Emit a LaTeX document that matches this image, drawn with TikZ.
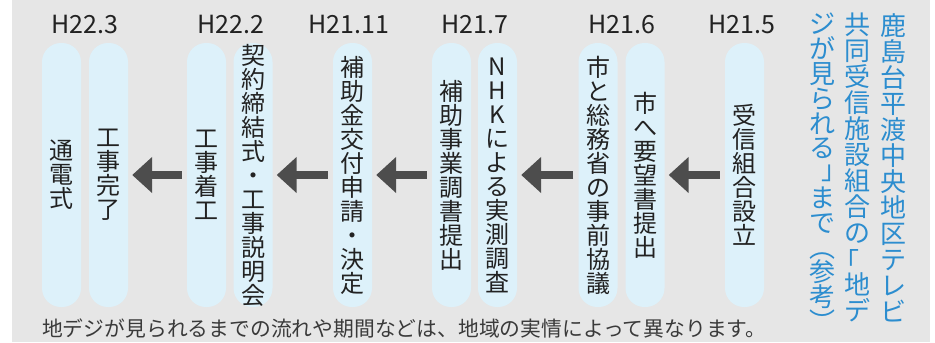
\documentclass[tikz,border=0pt]{standalone}
\usepackage{fontspec}
\setmainfont{Noto Sans CJK JP}
\usetikzlibrary{arrows.meta}
\definecolor{bggray}{HTML}{E6E6E6}
\definecolor{pillblue}{HTML}{DDF1FA}
\definecolor{arrgray}{HTML}{4D4D4D}
\definecolor{titleblue}{HTML}{2C8DCF}
\definecolor{inkgray}{HTML}{222222}
\definecolor{notegray}{HTML}{3A3A3A}
\setlength{\lineskiplimit}{-20bp}
% brackets set upright in the stacked columns
\newcommand{\openbr}{\raisebox{-0.12em}{\hspace*{-0.42em}「\hspace*{0.42em}}}
\newcommand{\closebr}{\raisebox{0.12em}{\hspace*{0.48em}」\hspace*{-0.48em}}}

\begin{document}
\begin{tikzpicture}[x=1bp, y=-1bp,
  date/.style={anchor=base, inner sep=0pt, text=inkgray, font=\fontsize{25bp}{25bp}\selectfont},
  arr/.style={draw=arrgray, line width=8bp, shorten <=5bp, shorten >=4bp, -{Triangle[length=20bp, width=35bp]}}]
\tikzstyle{pill}=[fill=pillblue, rounded corners=19bp, minimum width=39bp, minimum height=264bp, inner sep=0pt, align=center, text=inkgray, font=\fontsize{24bp}{24bp}\selectfont]
\tikzstyle{col}=[anchor=north, inner sep=0pt, align=center, text=titleblue, font=\fontsize{26bp}{26bp}\selectfont]
\useasboundingbox (0,0) rectangle (935,342);
\fill[bggray] (12,0) rectangle (930,342);
\node[pill] (p1) at (61.5,175) {通\\電\\式};
\node[pill] (p2) at (108.5,175) {工\\事\\完\\了};
\node[pill] (p3) at (206.5,175) {工\\事\\着\\工};
\node[pill] (p4) at (253,175) {契\\約\\締\\結\\式\\・\\工\\事\\説\\明\\会};
\node[pill] (p5) at (352.5,175) {補\\助\\金\\交\\付\\申\\請\\・\\決\\定};
\node[pill] (p6) at (451.5,175) {補\\助\\事\\業\\調\\書\\提\\出};
\node[pill] (p7) at (497.5,175) {N\\H\\K\\に\\よ\\る\\実\\測\\調\\査};
\node[pill] (p8) at (598,175) {市\\と\\総\\務\\省\\の\\事\\前\\協\\議};
\node[pill] (p9) at (645,175) {市\\へ\\要\\望\\書\\提\\出};
\node[pill] (p10) at (744.5,175) {受\\信\\組\\合\\設\\立};
\foreach \i/\j in {p3/p2,p5/p4,p6/p5,p8/p7,p10/p9}{\draw[arr] (\i) -- (\j);}
\foreach \x/\d [count=\k] in {85/H22.3,231/H22.2,349/H21.11,475/H21.7,622/H21.6,742/H21.5}{\node[date] (d\k) at (\x,33) {\d};}
\node[col] (t1) at (893,13) {鹿\\島\\台\\平\\渡\\中\\央\\地\\区\\テ\\レ\\ビ};
\node[col] (t2) at (857,13) {共\\同\\受\\信\\施\\設\\組\\合\\の\\\openbr\\地\\デ};
\node[col, font=\fontsize{26bp}{24.8bp}\selectfont] (t3) at (822,13) {ジ\\が\\見\\ら\\れ\\る\\\closebr\\ま\\で\\︵\\参\\考\\︶};
\node[anchor=base west, inner sep=0pt, text=notegray, font=\fontsize{20.8bp}{20.8bp}\selectfont] (note) at (42,336) {地デジが見られるまでの流れや期間などは、地域の実情によって異なります。};
\end{tikzpicture}
\end{document}
